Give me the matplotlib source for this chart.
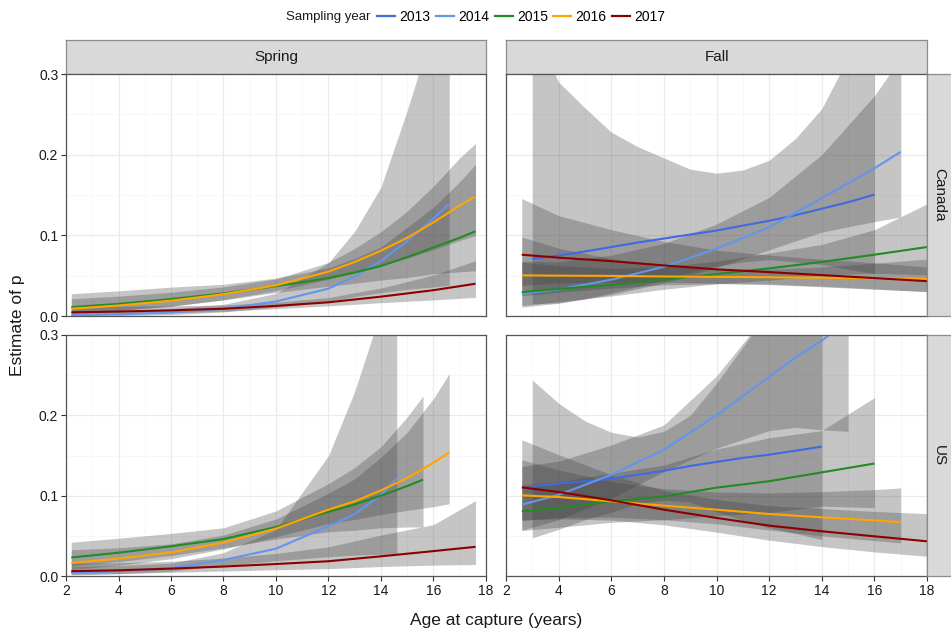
import matplotlib
matplotlib.use("Agg")
import matplotlib.pyplot as plt
from matplotlib.lines import Line2D
from matplotlib.ticker import MultipleLocator

plt.rcParams['font.family'] = ['Liberation Sans', 'DejaVu Sans']

# ---------------- data ----------------
years = ["2013", "2014", "2015", "2016", "2017"]
year_colors = ["#4169E1", "#6495ED", "#228B22", "#FFA500", "#8B0000"]
seasons = ["Spring", "Fall"]
regions = ["Canada", "US"]
x_ticks = [2, 4, 6, 8, 10, 12, 14, 16, 18]
y_ticks = [0.0, 0.1, 0.2, 0.3]
y_tick_labels = ["0.0", "0.1", "0.2", "0.3"]

# Spring / Canada
sc14_x = [2.2, 4, 6, 8, 10, 12, 13, 14, 15, 16, 16.6]
sc14_fit = [0.001, 0.002, 0.0045, 0.009, 0.018, 0.034, 0.049, 0.068, 0.093, 0.121, 0.139]
sc14_lo = [0.0001, 0.0005, 0.0018, 0.005, 0.011, 0.018, 0.024, 0.029, 0.033, 0.036, 0.038]
sc14_hi = [0.006, 0.007, 0.009, 0.0145, 0.028, 0.066, 0.105, 0.16, 0.255, 0.36, 0.45]

sc15_x = [2.2, 4, 6, 8, 10, 12, 13, 14, 15, 16, 17, 17.6]
sc15_fit = [0.011, 0.015, 0.021, 0.028, 0.037, 0.047, 0.054, 0.062, 0.073, 0.085, 0.097, 0.105]
sc15_lo = [0.0043, 0.0071, 0.0122, 0.0199, 0.0291, 0.037, 0.0406, 0.0445, 0.0478, 0.0524, 0.0547, 0.0561]
sc15_hi = [0.0276, 0.0312, 0.0358, 0.0393, 0.047, 0.0596, 0.0716, 0.0857, 0.110, 0.135, 0.1666, 0.188]

sc16_x = [2.2, 4, 6, 8, 10, 12, 13, 14, 15, 16, 17, 17.6]
sc16_fit = [0.009, 0.013, 0.019, 0.027, 0.038, 0.055, 0.067, 0.081, 0.097, 0.116, 0.137, 0.148]
sc16_lo = [0.0038, 0.0068, 0.0122, 0.0201, 0.0314, 0.0455, 0.0535, 0.0625, 0.0718, 0.0823, 0.0936, 0.0997]
sc16_hi = [0.0214, 0.0246, 0.0295, 0.0361, 0.046, 0.0664, 0.0837, 0.1046, 0.130, 0.161, 0.196, 0.214]

sc17_x = [2.2, 4, 6, 8, 10, 12, 14, 16, 17.6]
sc17_fit = [0.0045, 0.0055, 0.007, 0.009, 0.0125, 0.017, 0.024, 0.032, 0.040]
sc17_lo = [0.0017, 0.0025, 0.0039, 0.0059, 0.0091, 0.0126, 0.0165, 0.020, 0.023]
sc17_hi = [0.0121, 0.0121, 0.0127, 0.0136, 0.0171, 0.0228, 0.0347, 0.0507, 0.0686]

# Spring / US
su14_x = [2.2, 4, 6, 8, 10, 12, 13, 14, 14.6]
su14_fit = [0.004, 0.006, 0.010, 0.020, 0.034, 0.062, 0.077, 0.101, 0.122]
su14_lo = [0.0013, 0.0028, 0.006, 0.013, 0.019, 0.024, 0.026, 0.027, 0.027]
su14_hi = [0.012, 0.013, 0.016, 0.029, 0.058, 0.15, 0.23, 0.33, 0.41]

su15_x = [2.2, 4, 6, 8, 10, 12, 13, 14, 15, 15.6]
su15_fit = [0.023, 0.029, 0.037, 0.046, 0.061, 0.080, 0.089, 0.100, 0.112, 0.120]
su15_lo = [0.0125, 0.0178, 0.0256, 0.035, 0.046, 0.055, 0.057, 0.060, 0.061, 0.061]
su15_hi = [0.042, 0.047, 0.053, 0.060, 0.081, 0.115, 0.135, 0.161, 0.198, 0.224]

su16_x = [2.2, 4, 6, 8, 10, 12, 13, 14, 15, 16, 16.6]
su16_fit = [0.0164, 0.0216, 0.0294, 0.0416, 0.059, 0.0826, 0.093, 0.1066, 0.122, 0.141, 0.154]
su16_lo = [0.0082, 0.0133, 0.0215, 0.0336, 0.0488, 0.0653, 0.0704, 0.0766, 0.0817, 0.0863, 0.090]
su16_hi = [0.0326, 0.0352, 0.040, 0.051, 0.071, 0.103, 0.121, 0.148, 0.179, 0.221, 0.252]

su17_x = [2.2, 4, 6, 8, 10, 12, 14, 16, 17.6]
su17_fit = [0.006, 0.0071, 0.0092, 0.0118, 0.0149, 0.0184, 0.0245, 0.031, 0.0363]
su17_lo = [0.0022, 0.0031, 0.0046, 0.0062, 0.0078, 0.0092, 0.0118, 0.0135, 0.0143]
su17_hi = [0.0161, 0.0165, 0.0183, 0.0223, 0.0282, 0.0363, 0.051, 0.064, 0.0938]

# Fall / Canada
fc13_x = [3, 4, 5, 6, 7, 8, 9, 10, 11, 12, 13, 14, 15, 16]
fc13_fit = [0.071, 0.075, 0.080, 0.0855, 0.091, 0.096, 0.101, 0.106, 0.112, 0.118, 0.125, 0.133, 0.141, 0.1505]
fc13_lo = [0.015, 0.0163, 0.0212, 0.0288, 0.0362, 0.0444, 0.054, 0.062, 0.067, 0.070, 0.067, 0.064, 0.058, 0.0524]
fc13_hi = [0.36, 0.29, 0.258, 0.228, 0.21, 0.196, 0.182, 0.177, 0.181, 0.193, 0.22, 0.257, 0.32, 0.36]

fc14_x = [2.6, 4, 6, 8, 10, 12, 14, 16, 17]
fc14_fit = [0.0276, 0.033, 0.045, 0.061, 0.0835, 0.110, 0.146, 0.183, 0.2035]
fc14_lo = [0.011, 0.0158, 0.0265, 0.041, 0.060, 0.082, 0.104, 0.117, 0.1227]
fc14_hi = [0.068, 0.067, 0.0755, 0.090, 0.114, 0.147, 0.20, 0.273, 0.32]

fc15_x = [2.6, 4, 6, 8, 10, 12, 14, 16, 18]
fc15_fit = [0.0296, 0.0337, 0.0385, 0.045, 0.052, 0.059, 0.067, 0.076, 0.0855]
fc15_lo = [0.0129, 0.0178, 0.0248, 0.0331, 0.040, 0.0444, 0.0507, 0.053, 0.051]
fc15_hi = [0.0667, 0.0624, 0.059, 0.0609, 0.068, 0.078, 0.0887, 0.107, 0.139]

fc16_x = [2.6, 4, 6, 8, 10, 12, 14, 16, 18]
fc16_fit = [0.0503, 0.050, 0.0497, 0.049, 0.0485, 0.048, 0.0475, 0.047, 0.0462]
fc16_lo = [0.025, 0.0295, 0.0346, 0.0386, 0.040, 0.0396, 0.037, 0.0336, 0.030]
fc16_hi = [0.098, 0.084, 0.071, 0.062, 0.0586, 0.058, 0.0607, 0.0654, 0.0706]

fc17_x = [2.6, 4, 6, 8, 10, 12, 14, 16, 18]
fc17_fit = [0.076, 0.0723, 0.068, 0.0627, 0.0578, 0.0544, 0.0507, 0.047, 0.0432]
fc17_lo = [0.038, 0.041, 0.042, 0.042, 0.0407, 0.0389, 0.0362, 0.0332, 0.0305]
fc17_hi = [0.1456, 0.1245, 0.107, 0.0924, 0.0816, 0.0755, 0.0704, 0.066, 0.0607]

# Fall / US
fu13_x = [3, 4, 5, 6, 7, 8, 9, 10, 11, 12, 13, 14]
fu13_fit = [0.1116, 0.115, 0.118, 0.121, 0.126, 0.131, 0.137, 0.142, 0.147, 0.151, 0.156, 0.161]
fu13_lo = [0.0475, 0.058, 0.070, 0.0794, 0.090, 0.0945, 0.092, 0.080, 0.069, 0.060, 0.053, 0.0453]
fu13_hi = [0.244, 0.215, 0.193, 0.179, 0.173, 0.18, 0.20, 0.24, 0.285, 0.33, 0.38, 0.44]

fu14_x = [2.6, 4, 6, 8, 10, 12, 13, 14, 15]
fu14_fit = [0.0888, 0.101, 0.126, 0.157, 0.2, 0.248, 0.272, 0.293, 0.318]
fu14_lo = [0.057, 0.070, 0.0967, 0.130, 0.159, 0.181, 0.185, 0.182, 0.18]
fu14_hi = [0.1364, 0.143, 0.163, 0.188, 0.249, 0.33, 0.381, 0.435, 0.497]

fu15_x = [2.6, 4, 6, 8, 10, 12, 14, 16]
fu15_fit = [0.0805, 0.0847, 0.093, 0.099, 0.110, 0.118, 0.129, 0.14]
fu15_lo = [0.0566, 0.0607, 0.0668, 0.070, 0.075, 0.079, 0.087, 0.085]
fu15_hi = [0.1135, 0.117, 0.128, 0.138, 0.158, 0.172, 0.181, 0.222]

fu16_x = [2.6, 4, 6, 8, 10, 12, 14, 16, 17]
fu16_fit = [0.1004, 0.0983, 0.093, 0.0876, 0.0826, 0.0772, 0.073, 0.0693, 0.0669]
fu16_lo = [0.069, 0.0727, 0.0733, 0.070, 0.0649, 0.0573, 0.050, 0.044, 0.0412]
fu16_hi = [0.1447, 0.132, 0.1174, 0.1088, 0.1046, 0.1034, 0.105, 0.1075, 0.1096]

fu17_x = [2.6, 4, 6, 8, 10, 12, 14, 16, 18]
fu17_fit = [0.1103, 0.1046, 0.0942, 0.0826, 0.0723, 0.0627, 0.0557, 0.0494, 0.0432]
fu17_lo = [0.070, 0.0713, 0.0696, 0.0637, 0.0546, 0.0446, 0.0366, 0.030, 0.0246]
fu17_hi = [0.1696, 0.151, 0.126, 0.1064, 0.0952, 0.0875, 0.084, 0.0804, 0.0776]

panel_series = {
    ("Spring", "Canada"): [("2014", sc14_x, sc14_fit, sc14_lo, sc14_hi),
                           ("2015", sc15_x, sc15_fit, sc15_lo, sc15_hi),
                           ("2016", sc16_x, sc16_fit, sc16_lo, sc16_hi),
                           ("2017", sc17_x, sc17_fit, sc17_lo, sc17_hi)],
    ("Spring", "US"): [("2014", su14_x, su14_fit, su14_lo, su14_hi),
                       ("2015", su15_x, su15_fit, su15_lo, su15_hi),
                       ("2016", su16_x, su16_fit, su16_lo, su16_hi),
                       ("2017", su17_x, su17_fit, su17_lo, su17_hi)],
    ("Fall", "Canada"): [("2013", fc13_x, fc13_fit, fc13_lo, fc13_hi),
                         ("2014", fc14_x, fc14_fit, fc14_lo, fc14_hi),
                         ("2015", fc15_x, fc15_fit, fc15_lo, fc15_hi),
                         ("2016", fc16_x, fc16_fit, fc16_lo, fc16_hi),
                         ("2017", fc17_x, fc17_fit, fc17_lo, fc17_hi)],
    ("Fall", "US"): [("2013", fu13_x, fu13_fit, fu13_lo, fu13_hi),
                     ("2014", fu14_x, fu14_fit, fu14_lo, fu14_hi),
                     ("2015", fu15_x, fu15_fit, fu15_lo, fu15_hi),
                     ("2016", fu16_x, fu16_fit, fu16_lo, fu16_hi),
                     ("2017", fu17_x, fu17_fit, fu17_lo, fu17_hi)],
}

# ---------------- layout ----------------
W, H = 951, 632
fig = plt.figure(figsize=(W / 100, H / 100), dpi=100)
fig.patch.set_facecolor("white")


def rect(x0, y0, x1, y1):
    return [x0 / W, 1 - y1 / H, (x1 - x0) / W, (y1 - y0) / H]


col_x = [(66, 486), (506, 927)]
row_y = [(74, 316), (335, 576)]
color_of = dict(zip(years, year_colors))
tick_fs = 10

for ci, season in enumerate(seasons):
    # top strip
    sx = fig.add_axes(rect(col_x[ci][0], 40, col_x[ci][1], 74))
    sx.set_facecolor("#D9D9D9")
    sx.set_xticks([]); sx.set_yticks([])
    for s in sx.spines.values():
        s.set_color("#8C8C8C"); s.set_linewidth(0.9)
    sx.text(0.5, 0.5, season, ha="center", va="center", fontsize=11, color="#1A1A1A",
            transform=sx.transAxes)
    for ri, region in enumerate(regions):
        ax = fig.add_axes(rect(col_x[ci][0], row_y[ri][0], col_x[ci][1], row_y[ri][1]))
        ax.set_xlim(2, 18)
        ax.set_ylim(0, 0.3)
        ax.set_xticks(x_ticks)
        ax.set_yticks(y_ticks)
        ax.xaxis.set_minor_locator(MultipleLocator(1))
        ax.yaxis.set_minor_locator(MultipleLocator(0.05))
        ax.set_axisbelow(True)
        ax.grid(which="major", color="#EBEBEB", linewidth=0.9)
        ax.grid(which="minor", color="#F4F4F4", linewidth=0.5)
        ax.tick_params(which="minor", length=0)
        ax.tick_params(which="major", length=3.5, width=0.8, color="#333333",
                       labelsize=tick_fs, labelcolor="#1A1A1A", pad=2)
        for s in ax.spines.values():
            s.set_color("#555555"); s.set_linewidth(0.9)
        if ri == 0:
            ax.tick_params(axis="x", bottom=False, labelbottom=False)
        else:
            ax.set_xticklabels([str(t) for t in x_ticks])
        if ci == 1:
            ax.tick_params(axis="y", left=False, labelleft=False)
        else:
            ax.set_yticklabels(y_tick_labels)

        data = panel_series[(season, region)]
        for yr, xs, fit, lo, hi in data:
            ax.fill_between(xs, lo, hi, color="#404040", alpha=0.3, linewidth=0)
        for yr, xs, fit, lo, hi in data:
            ax.plot(xs, fit, color=color_of[yr], linewidth=1.5, solid_capstyle="butt")

        if ci == 1:
            rx = fig.add_axes(rect(927, row_y[ri][0], 951 + 3, row_y[ri][1]))
            rx.set_facecolor("#D9D9D9")
            rx.set_xticks([]); rx.set_yticks([])
            for s in rx.spines.values():
                s.set_color("#8C8C8C"); s.set_linewidth(0.9)
            rx.set_xlim(0, 1)
            rx.text(0.45, 0.5, region, ha="center", va="center", rotation=-90,
                    fontsize=11, color="#1A1A1A", transform=rx.transAxes)

# axis titles
fig.text(496 / W, 1 - 621 / H, "Age at capture (years)", ha="center", va="center",
         fontsize=12.5, color="#1A1A1A")
fig.text(18 / W, 1 - 325 / H, "Estimate of p", ha="center", va="center",
         rotation=90, fontsize=12.5, color="#1A1A1A")

# legend
fig.text(286 / W, 1 - 17 / H, "Sampling year", ha="left", va="center",
         fontsize=9.5, color="#1A1A1A")
handles = [Line2D([0], [0], color=c, linewidth=1.6) for c in year_colors]
fig.legend(handles, years, ncol=5, loc="center left",
           bbox_to_anchor=(377 / W, 1 - 17 / H), frameon=False, fontsize=10,
           handlelength=1.3, handletextpad=0.3, columnspacing=0.4,
           borderaxespad=0, borderpad=0.0)

fig.savefig("out.png", dpi=100, facecolor="white")
